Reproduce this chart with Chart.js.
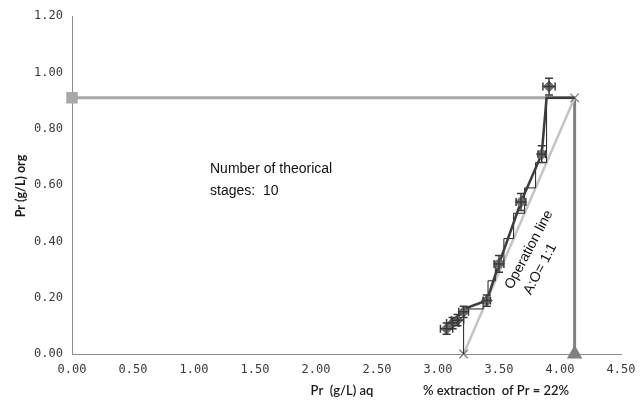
<!DOCTYPE html>
<html>
<head>
<meta charset="utf-8">
<script src="https://cdn.jsdelivr.net/npm/chart.js@4/dist/chart.umd.min.js"></script>
<style>
  html, body { margin: 0; padding: 0; background: #fff; }
  #wrap { width: 641px; height: 405px; position: relative; }
</style>
</head>
<body>
<div id="wrap"><canvas id="c" width="641" height="405"></canvas></div>
<script>
// ---- data ----
const xTicks = [0, 0.5, 1, 1.5, 2, 2.5, 3, 3.5, 4, 4.5];
const yTicks = [0, 0.2, 0.4, 0.6, 0.8, 1.0, 1.2];

// feed line (horizontal) and raffinate line (vertical)
const feedX = [0, 4.12];
const feedY = [0.91, 0.91];
const vertX = [4.12, 4.12];
const vertY = [0, 0.91];

// operation line A:O = 1:1
const opX = [3.21, 4.12];
const opY = [0, 0.91];

// equilibrium curve
const eqX = [3.07, 3.12, 3.16, 3.21, 3.40, 3.50, 3.68, 3.85, 3.89, 4.12];
const eqY = [0.09, 0.11, 0.13, 0.16, 0.19, 0.32, 0.54, 0.71, 0.91, 0.91];

// theoretical stages staircase
const stepX = [3.21, 3.21, 3.37, 3.37, 3.41, 3.41, 3.47, 3.47, 3.54, 3.54, 3.62, 3.62, 3.71, 3.71, 3.80, 3.80, 3.89, 3.89];
const stepY = [0.00, 0.16, 0.16, 0.20, 0.20, 0.26, 0.26, 0.33, 0.33, 0.41, 0.41, 0.50, 0.50, 0.59, 0.59, 0.68, 0.68, 0.91];

// experimental points with error bars
const expX = [3.07, 3.12, 3.16, 3.21, 3.40, 3.50, 3.68, 3.85, 3.91];
const expY = [0.09, 0.11, 0.12, 0.15, 0.19, 0.32, 0.54, 0.71, 0.95];
const expXErr = [0.05, 0.05, 0.05, 0.04, 0.03, 0.04, 0.04, 0.03, 0.05];
const expYErr = [0.02, 0.02, 0.02, 0.02, 0.02, 0.03, 0.03, 0.03, 0.03];

const pts = (xs, ys) => xs.map((x, i) => ({ x: x, y: ys[i] }));

const errorBars = {
  id: 'errorBars',
  afterDatasetsDraw(chart) {
    const ctx = chart.ctx, xs = chart.scales.x, ys = chart.scales.y;
    ctx.save();
    ctx.strokeStyle = '#3a3a3a';
    ctx.lineWidth = 1.5;
    const cap = 4;
    expX.forEach((x, i) => {
      const y = expY[i];
      const px = xs.getPixelForValue(x), py = ys.getPixelForValue(y);
      const x1 = xs.getPixelForValue(x - expXErr[i]), x2 = xs.getPixelForValue(x + expXErr[i]);
      const y1 = ys.getPixelForValue(y - expYErr[i]), y2 = ys.getPixelForValue(y + expYErr[i]);
      ctx.beginPath();
      ctx.moveTo(x1, py); ctx.lineTo(x2, py);
      ctx.moveTo(x1, py - cap); ctx.lineTo(x1, py + cap);
      ctx.moveTo(x2, py - cap); ctx.lineTo(x2, py + cap);
      ctx.moveTo(px, y1); ctx.lineTo(px, y2);
      ctx.moveTo(px - cap, y1); ctx.lineTo(px + cap, y1);
      ctx.moveTo(px - cap, y2); ctx.lineTo(px + cap, y2);
      ctx.stroke();
    });
    ctx.restore();
  }
};

const texts = {
  id: 'texts',
  afterDraw(chart) {
    const ctx = chart.ctx;
    ctx.save();
    ctx.fillStyle = '#1a1a1a';
    // y axis title
    ctx.save();
    ctx.translate(21, 186);
    ctx.rotate(-Math.PI / 2);
    ctx.font = 'bold 12.5px Lato, "Liberation Sans", sans-serif';
    ctx.textAlign = 'center';
    ctx.textBaseline = 'middle';
    ctx.fillText('Pr (g/L) org', 0, 0);
    ctx.restore();
    // bottom texts
    ctx.font = '600 13px Lato, "Liberation Sans", sans-serif';
    ctx.textAlign = 'center';
    ctx.textBaseline = 'middle';
    ctx.fillText('Pr  (g/L) aq', 342, 391);
    ctx.fillText('% extraction  of Pr = 22%', 496, 391);
    // stages note
    ctx.fillStyle = '#111';
    ctx.font = '14px "Liberation Sans", Arial, sans-serif';
    ctx.textAlign = 'left';
    ctx.textBaseline = 'alphabetic';
    ctx.fillText('Number of theorical', 210, 173);
    ctx.fillText('stages:  10', 210, 195);
    // operation line label (rotated)
    ctx.save();
    ctx.translate(512, 290);
    ctx.rotate(-62 * Math.PI / 180);
    ctx.font = '14px "Liberation Sans", Arial, sans-serif';
    ctx.textAlign = 'left';
    ctx.textBaseline = 'alphabetic';
    ctx.fillText('Operation line', 0, 0);
    ctx.fillText('A:O= 1:1', 4, 19);
    ctx.restore();
    ctx.restore();
  }
};

new Chart(document.getElementById('c'), {
  type: 'scatter',
  data: {
    datasets: [
      { data: pts(expX, expY), showLine: false, pointStyle: 'rectRot', pointRadius: 5.5,
        backgroundColor: '#6e6e6e', borderColor: '#6e6e6e', order: 1, clip: false },
      { data: pts(eqX, eqY), showLine: true, borderColor: '#3c3c3c', borderWidth: 2.5,
        pointRadius: 0, order: 2, clip: false },
      { data: pts(stepX, stepY), showLine: true, borderColor: '#1e1e1e', borderWidth: 1,
        pointRadius: 0, order: 3, clip: false },
      { data: pts(opX, opY), showLine: true, borderColor: '#c4c4c4', borderWidth: 2.5,
        pointStyle: 'crossRot', pointRadius: 6, pointBorderColor: '#7a7a7a', pointBorderWidth: 1.2,
        backgroundColor: '#7a7a7a', order: 4, clip: false },
      { data: pts(vertX, vertY), showLine: true, borderColor: '#808080', borderWidth: 3,
        pointStyle: 'triangle', pointRadius: [6, 0], backgroundColor: '#808080',
        pointBorderColor: '#808080', order: 5, clip: false },
      { data: pts(feedX, feedY), showLine: true, borderColor: '#a8a8a8', borderWidth: 3,
        pointStyle: 'rect', pointRadius: [6, 0], backgroundColor: '#a8a8a8',
        pointBorderColor: '#a8a8a8', order: 6, clip: false }
    ]
  },
  options: {
    responsive: false,
    animation: false,
    layout: { padding: { top: 9, right: 20, left: 0, bottom: 0 } },
    plugins: { legend: { display: false }, tooltip: { enabled: false } },
    scales: {
      x: {
        min: 0, max: 4.5,
        afterBuildTicks: s => { s.ticks = xTicks.map(v => ({ value: v })); },
        afterFit: s => { s.height = 51; s.paddingRight = 0; s.paddingLeft = 0; },
        grid: { display: false, drawTicks: false },
        border: { display: true, color: '#8c8c8c', width: 1 },
        ticks: { padding: 9, color: '#3a3a3a', maxRotation: 0,
          font: { family: '"DejaVu Sans Mono", monospace', size: 12 },
          callback: v => Number(v).toFixed(2) }
      },
      y: {
        min: 0, max: 1.2,
        afterBuildTicks: s => { s.ticks = yTicks.map(v => ({ value: v })); },
        afterFit: s => { s.width = 72; },
        grid: { display: false, drawTicks: false },
        border: { display: true, color: '#8c8c8c', width: 1 },
        ticks: { padding: 9, color: '#3a3a3a',
          font: { family: '"DejaVu Sans Mono", monospace', size: 12 },
          callback: v => Number(v).toFixed(2) }
      }
    }
  },
  plugins: [errorBars, texts]
});
</script>
</body>
</html>
